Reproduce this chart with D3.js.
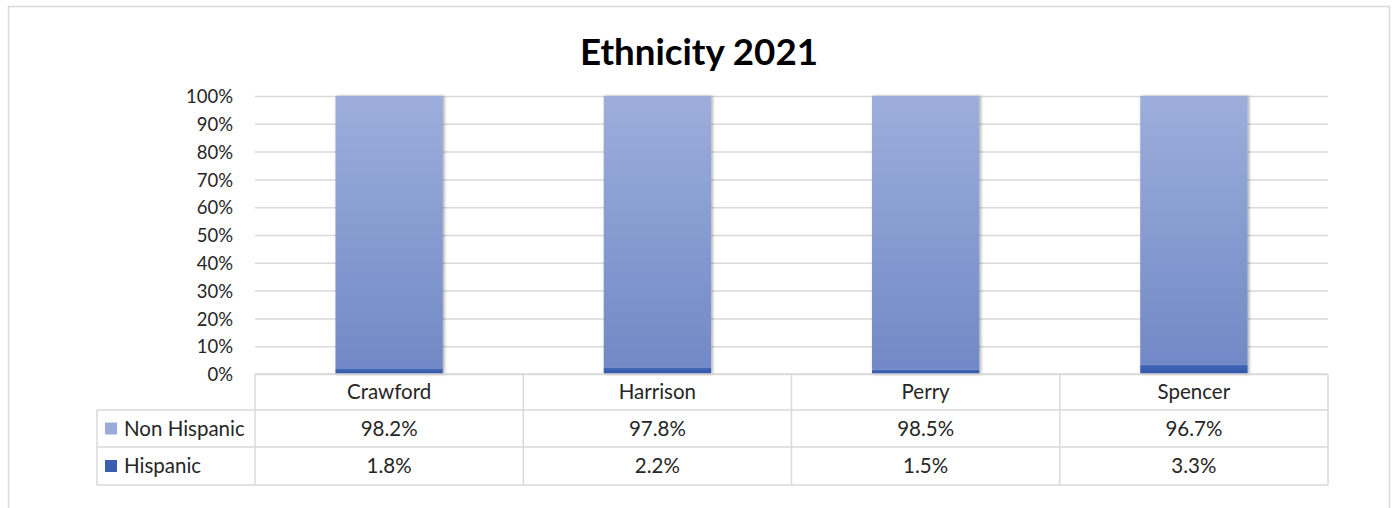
<!DOCTYPE html>
<html>
<head>
<meta charset="utf-8">
<script src="https://cdn.jsdelivr.net/npm/d3@7"></script>
<style>
  html, body { margin: 0; padding: 0; background: #fff; }
  svg { display: block; }
  text { font-family: Lato, "Noto Sans", sans-serif; fill: #262626; }
</style>
</head>
<body>
<svg id="chart" width="1393" height="508"></svg>
<script>
const categories = ["Crawford", "Harrison", "Perry", "Spencer"];
const seriesNames = ["Hispanic", "Non Hispanic"];
const hispanic = [1.8, 2.2, 1.5, 3.3];
const nonHispanic = [98.2, 97.8, 98.5, 96.7];
const yTicks = [0, 10, 20, 30, 40, 50, 60, 70, 80, 90, 100];
const title = "Ethnicity 2021";

(function () {
const svg = d3.select("#chart");

// outer frame
svg.append("rect").attr("x", 8.5).attr("y", 6.5).attr("width", 1381).attr("height", 520)
  .attr("fill", "#fff").attr("stroke", "#d9d9d9").attr("stroke-width", 1.5);

const defs = svg.append("defs");
const g1 = defs.append("linearGradient").attr("id", "gNon").attr("x1", 0).attr("y1", 0).attr("x2", 0).attr("y2", 1);
g1.append("stop").attr("offset", "0%").attr("stop-color", "#9daedb");
g1.append("stop").attr("offset", "100%").attr("stop-color", "#7189c6");
const g2 = defs.append("linearGradient").attr("id", "gHis").attr("x1", 0).attr("y1", 0).attr("x2", 0).attr("y2", 1);
g2.append("stop").attr("offset", "0%").attr("stop-color", "#4468b8");
g2.append("stop").attr("offset", "100%").attr("stop-color", "#2f55a8");
const f = defs.append("filter").attr("id", "shadow").attr("x", "-10%").attr("y", "-10%").attr("width", "130%").attr("height", "120%");
f.append("feDropShadow").attr("dx", 1.5).attr("dy", 0).attr("stdDeviation", 1.8).attr("flood-color", "#000").attr("flood-opacity", 0.35);

const pLeft = 255, pRight = 1328, pTop = 96, pBottom = 374;
const x = d3.scaleBand().domain(categories).range([pLeft, pRight]).paddingInner(0.6).paddingOuter(0.3);
const xCell = d3.scaleBand().domain(categories).range([pLeft, pRight]);
const y = d3.scaleLinear().domain([0, 100]).range([pBottom, pTop]);

// title
const t = svg.append("text").attr("x", 699).attr("y", 65).attr("text-anchor", "middle")
  .style("font-weight", "bold").style("font-size", "34px").style("fill", "#000").text(title);
const tw = t.node().getComputedTextLength();
t.style("font-size", (34 * 238 / tw) + "px");

// gridlines + y axis
const yAxis = d3.axisLeft(y).tickValues(yTicks).tickSize(-(pRight - pLeft)).tickFormat(d => d + "%").tickPadding(22);
const ga = svg.append("g").attr("transform", `translate(${pLeft},0)`).call(yAxis);
ga.select(".domain").remove();
ga.selectAll(".tick line").attr("stroke", "#d9d9d9").attr("stroke-width", 1.5);
ga.selectAll(".tick text").style("font-size", "18.5px").style("fill", "#262626").attr("dy", "0.36em");

// stacked bars
const rows = categories.map((c, i) => ({ cat: c, Hispanic: hispanic[i], "Non Hispanic": nonHispanic[i] }));
const stack = d3.stack().keys(seriesNames)(rows);
const fills = { "Hispanic": "url(#gHis)", "Non Hispanic": "url(#gNon)" };
const barG = svg.append("g").attr("filter", "url(#shadow)");
stack.forEach(layer => {
  barG.selectAll(null).data(layer).join("rect")
    .attr("x", d => x(d.data.cat))
    .attr("width", x.bandwidth())
    .attr("y", d => y(d[1]))
    .attr("height", d => y(d[0]) - y(d[1]))
    .attr("fill", fills[layer.key]);
});

// data table
const rowH = [374, 410, 447, 485];
const tableLeft = 97;
const border = "#d9d9d9";
const fs = "20.5px";
const tg = svg.append("g");
tg.append("line").attr("x1", pLeft).attr("x2", pRight).attr("y1", rowH[0]).attr("y2", rowH[0]).attr("stroke", border).attr("stroke-width", 1.5);
[rowH[1], rowH[2], rowH[3]].forEach(yy => {
  tg.append("line").attr("x1", tableLeft).attr("x2", pRight).attr("y1", yy).attr("y2", yy).attr("stroke", border).attr("stroke-width", 1.5);
});
tg.append("line").attr("x1", tableLeft).attr("x2", tableLeft).attr("y1", rowH[1]).attr("y2", rowH[3]).attr("stroke", border).attr("stroke-width", 1.5);
categories.forEach(c => {
  tg.append("line").attr("x1", xCell(c)).attr("x2", xCell(c)).attr("y1", rowH[0]).attr("y2", rowH[3]).attr("stroke", border).attr("stroke-width", 1.5);
});
tg.append("line").attr("x1", pRight).attr("x2", pRight).attr("y1", rowH[0]).attr("y2", rowH[3]).attr("stroke", border).attr("stroke-width", 1.5);

categories.forEach(c => {
  tg.append("text").attr("x", xCell(c) + xCell.bandwidth() / 2).attr("y", (rowH[0] + rowH[1]) / 2)
    .attr("dy", "0.36em").attr("text-anchor", "middle").style("font-size", fs).text(c);
});
const tableRows = [
  { name: "Non Hispanic", vals: nonHispanic, color: "#9aabda" },
  { name: "Hispanic", vals: hispanic, color: "#3a5fae" }
];
tableRows.forEach((r, ri) => {
  const cy = (rowH[ri + 1] + rowH[ri + 2]) / 2;
  tg.append("rect").attr("x", 105).attr("y", cy - 6).attr("width", 12).attr("height", 12).attr("fill", r.color);
  tg.append("text").attr("x", 124).attr("y", cy).attr("dy", "0.36em").style("font-size", fs).text(r.name);
  r.vals.forEach((v, i) => {
    tg.append("text").attr("x", xCell(categories[i]) + xCell.bandwidth() / 2).attr("y", cy)
      .attr("dy", "0.36em").attr("text-anchor", "middle").style("font-size", fs)
      .text(v.toFixed(1) + "%");
  });
});
})();
</script>
</body>
</html>
